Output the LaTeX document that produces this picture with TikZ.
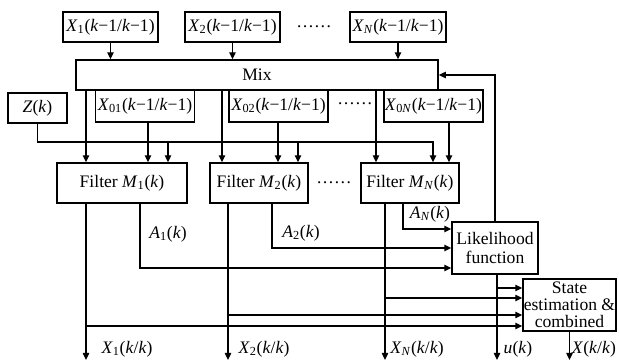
\documentclass[tikz,border=0pt]{standalone}
\usepackage{fontspec}
\setmainfont{Liberation Serif}
\usetikzlibrary{arrows.meta}
\newcommand{\vk}{\textit{k}}
\newcommand{\prior}[1]{\textit{X}\textsubscript{#1}(\vk−1/\vk−1)}
\newcommand{\post}[1]{\textit{X}\textsubscript{#1}(\vk/\vk)}
\newcommand{\filt}[1]{Filter \textit{M}\textsubscript{#1}(\vk)}

\begin{document}
\begin{tikzpicture}[x=0.025cm,y=-0.025cm,font=\fontsize{12.5}{14}\selectfont,line width=1pt,
    box/.style={draw,inner sep=0pt,align=center},
    arr/.style={-{Triangle[length=5pt,width=4.5pt]}}]
    \useasboundingbox (0,0) rectangle (619,361);
    % predicted states and mixing
    \node[box,minimum width=2.375cm,minimum height=.75cm] (x1) at (110.5,27) {\prior{1}};
    \node[box,minimum width=2.375cm,minimum height=.75cm] (x2) at (232.5,27) {\prior{2}};
    \node (dtop) at (314,27) {……};
    \node[box,minimum width=2.4cm,minimum height=.75cm] (xN) at (398,27) {\prior{\textit{N}}};
    \node[box,minimum width=9.05cm,minimum height=.75cm] (mix) at (257,75) {Mix};
    \node[box,minimum width=1.475cm,minimum height=.75cm] (zk) at (37.5,108) {\textit{Z}(\vk)};
    \node[box,minimum width=2.475cm,minimum height=.8cm] (x01) at (145,106) {\prior{01}};
    \node[box,minimum width=2.475cm,minimum height=.8cm] (x02) at (278.5,106) {\prior{02}};
    \node (dmid) at (355,104) {……};
    \node[box,minimum width=2.475cm,minimum height=.8cm] (x0N) at (433.5,106) {\prior{0\textit{N}}};
    % filters
    \node[box,minimum width=3.25cm,minimum height=1cm] (m1) at (122,183) {\filt{1}};
    \node[box,minimum width=2.45cm,minimum height=1cm] (m2) at (259,183) {\filt{2}};
    \node (dlow) at (334,183) {……};
    \node[box,minimum width=2.45cm,minimum height=1cm] (mN) at (410,183) {\filt{\textit{N}}};
    \node[box,minimum width=2.15cm,minimum height=1.3cm] (lik) at (495,248) {Likelihood\\function};
    \node[box,minimum width=2.325cm,minimum height=1.3cm,font=\fontsize{12.5}{12}\selectfont] (state) at (569.5,305) {State\\estimation \&\\combined};

    \coordinate (p1) at (86,360);
    \coordinate (p2) at (228,360);
    \coordinate (pN) at (385,360);
    \coordinate (q1) at (148,0);
    \coordinate (q2) at (278,0);
    \coordinate (qN) at (449,0);
    \coordinate (r1) at (86,0);
    \coordinate (r2) at (222,0);
    \coordinate (rN) at (376,0);
    \coordinate (zb) at (433,142);
    \coordinate (z1) at (168,142);
    \coordinate (z2) at (298,142);
    \coordinate (a1) at (140,268);
    \coordinate (a2) at (272,248);
    \coordinate (aN) at (403,229);
    \coordinate (u) at (497,360);
    \coordinate (s1) at (497,288);
    \coordinate (s2) at (385,298);
    \coordinate (s3) at (228,315);
    \coordinate (s4) at (86,326);

    \draw[arr] (x1.south) -- (mix.north -| x1.south);
    \draw[arr] (x2.south) -- (mix.north -| x2.south);
    \draw[arr] (xN.south) -- (mix.north -| xN.south);
    \draw[arr] (lik.north) |- (mix.east);

    \draw[arr] (mix.south -| r1) -- (m1.north -| r1);
    \draw[arr] (mix.south -| r2) -- (m2.north -| r2);
    \draw[arr] (mix.south -| rN) -- (mN.north -| rN);
    \draw[arr] (x01.south -| q1) -- (m1.north -| q1);
    \draw[arr] (x02.south -| q2) -- (m2.north -| q2);
    \draw[arr] (x0N.south -| qN) -- (mN.north -| qN);
    \draw[arr] (zk.south) |- (zb) -- (mN.north -| zb);
    \draw[arr] (z1) -- (m1.north -| z1);
    \draw[arr] (z2) -- (m2.north -| z2);

    \draw[arr] (m1.south -| a1) |- (lik.west |- a1);
    \draw[arr] (m2.south -| a2) |- (lik.west |- a2);
    \draw[arr] (mN.south -| aN) |- (lik.west |- aN);
    \node (la1) at (168,234) {\textit{A}\textsubscript{1}(\vk)};
    \node (la2) at (301,233) {\textit{A}\textsubscript{2}(\vk)};
    \node (laN) at (430,214) {\textit{A}\textsubscript{\textit{N}}(\vk)};

    \draw[arr] (m1.south -| p1) -- (p1);
    \draw[arr] (m2.south -| p2) -- (p2);
    \draw[arr] (mN.south -| pN) -- (pN);
    \draw[arr] (lik.south -| u) -- (u);
    \draw[arr] (state.south) -- (state.south |- u);
    \draw[arr] (s1) -- (state.west |- s1);
    \draw[arr] (s2) -- (state.west |- s2);
    \draw[arr] (s3) -- (state.west |- s3);
    \draw[arr] (s4) -- (state.west |- s4);

    \node (lx1) at (127,349) {\post{1}};
    \node (lx2) at (264,349) {\post{2}};
    \node (lxN) at (417,349) {\post{\textit{N}}};
    \node (lu) at (518,349) {\textit{u}(\vk)};
    \node (lx) at (594,349) {\textit{X}(\vk/\vk)};
  \end{tikzpicture}
\end{document}
